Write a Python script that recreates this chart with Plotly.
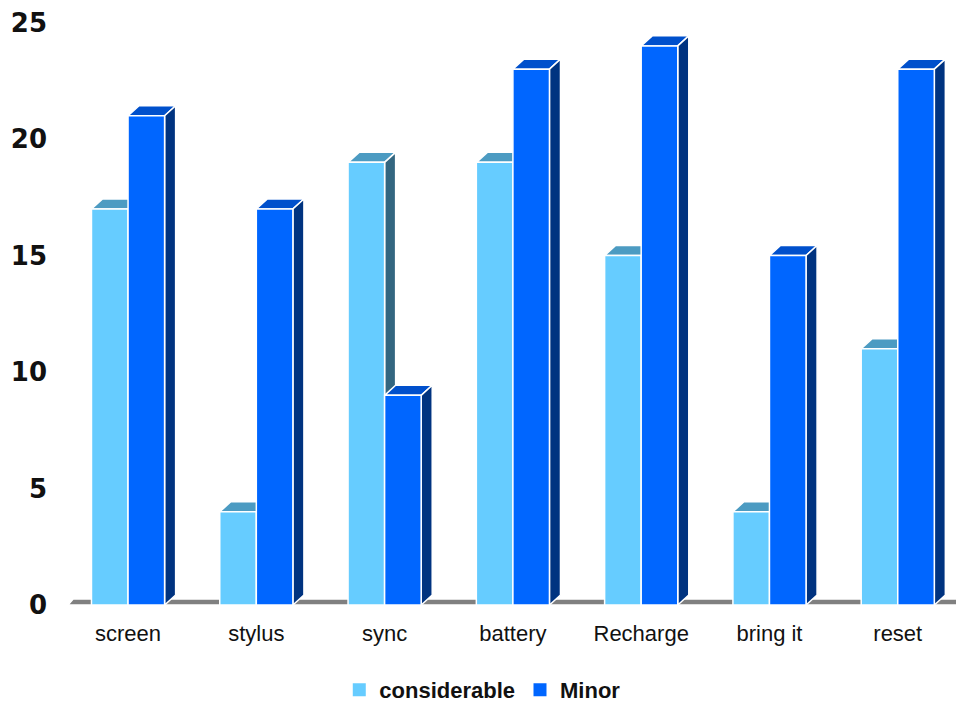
import plotly.graph_objects as go

# Chart data
categories = ["screen", "stylus", "sync", "battery", "Recharge", "bring it", "reset"]
considerable = [17, 4, 19, 19, 15, 4, 11]
minor = [21, 17, 9, 23, 24, 15, 23]
y_ticks = [0, 5, 10, 15, 20, 25]

# Colours per series: front, top, side faces
palette = {
    "considerable": ("#66CCFF", "#4C9BC2", "#336680"),
    "Minor": ("#0066FF", "#0050CC", "#003380"),
}

# Pseudo-3D geometry in axis units
BAR_W = 0.285      # width of one bar
DEPTH_X = 0.086    # horizontal depth offset
DEPTH_Y = 0.43     # vertical depth offset
X_RANGE = [-0.468, 6.454]
Y_RANGE = [0, 25.54]

fig = go.Figure()


def poly(xs, ys, color):
    fig.add_trace(go.Scatter(
        x=xs + [xs[0]], y=ys + [ys[0]], mode="lines", fill="toself",
        fillcolor=color, line=dict(color="white", width=1.5),
        hoverinfo="skip", showlegend=False))


# Floor strip
fdx, fdy = 0.04, 0.26
poly([X_RANGE[0], X_RANGE[1] + 1, X_RANGE[1] + 1 + fdx, X_RANGE[0] + fdx],
     [0, 0, fdy, fdy], "#808080")


def bar3d(x0, h, colors):
    front, top, side = colors
    x1 = x0 + BAR_W
    # top face
    poly([x0, x1, x1 + DEPTH_X, x0 + DEPTH_X], [h, h, h + DEPTH_Y, h + DEPTH_Y], top)
    # right side face
    poly([x1, x1 + DEPTH_X, x1 + DEPTH_X, x1], [0, DEPTH_Y, h + DEPTH_Y, h], side)
    # front face
    poly([x0, x1, x1, x0], [0, 0, h, h], front)


for i in range(len(categories)):
    bar3d(i - BAR_W, considerable[i], palette["considerable"])
    bar3d(i, minor[i], palette["Minor"])

# Legend entries
for name in ["considerable", "Minor"]:
    fig.add_trace(go.Scatter(
        x=[None], y=[None], mode="markers", name=name,
        marker=dict(symbol="square", size=13, color=palette[name][0])))

fig.update_layout(
    width=956, height=704,
    margin=dict(l=68, r=0, t=10, b=99),
    paper_bgcolor="white", plot_bgcolor="white",
    xaxis=dict(
        range=X_RANGE, tickmode="array", tickvals=list(range(len(categories))),
        ticktext=categories, showgrid=False, zeroline=False, showline=False,
        ticks="", ticklabelstandoff=13,
        tickfont=dict(family="Liberation Sans, Arial", size=22, color="#111111")),
    yaxis=dict(
        range=Y_RANGE, tickmode="array", tickvals=y_ticks,
        showgrid=False, zeroline=False, showline=False, ticks="",
        ticklabelstandoff=20,
        tickfont=dict(family="DejaVu Sans", size=26, color="#111111", weight="bold")),
    legend=dict(
        orientation="h", xref="container", yref="container",
        x=0.505, y=0.02, xanchor="center", yanchor="middle",
        bgcolor="rgba(0,0,0,0)", borderwidth=0,
        font=dict(family="Liberation Sans, Arial", size=22, color="#111111", weight="bold"),
        itemwidth=30),
    showlegend=True,
)

fig.write_html("out.html")
